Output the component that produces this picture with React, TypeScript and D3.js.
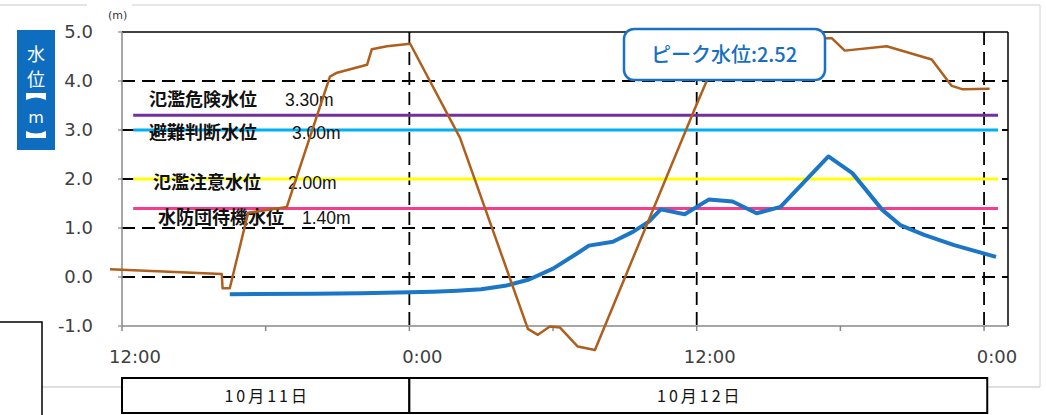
import React from "react";
import * as d3 from "d3";

const W = 1046;
const H = 415;

// ---- data ----
const yTicks = [-1, 0, 1, 2, 3, 4, 5];
const yTickLabels = ["-1.0", "0.0", "1.0", "2.0", "3.0", "4.0", "5.0"];
const xTickTimes = ["10-11 12:00", "10-12 00:00", "10-12 12:00", "10-13 00:00"];
const xTickLabels = ["12:00", "0:00", "12:00", "0:00"];
const minorTickTimes = ["10-11 12:00", "10-11 18:00", "10-12 00:00", "10-12 06:00", "10-12 12:00", "10-12 18:00", "10-13 00:00"];
const dateLabels = ["10月11日", "10月12日"];
const dateBounds = ["10-11 12:00", "10-12 00:00", "10-13 00:08"];

const blueTimes = [
  "10-11 16:30", "10-11 20:00", "10-11 22:00", "10-12 00:00", "10-12 01:00", "10-12 02:00",
  "10-12 03:00", "10-12 04:00", "10-12 05:00", "10-12 06:00", "10-12 07:00", "10-12 07:30",
  "10-12 08:30", "10-12 09:20", "10-12 10:00", "10-12 10:30", "10-12 11:30", "10-12 12:30",
  "10-12 13:30", "10-12 14:30", "10-12 15:30", "10-12 17:30", "10-12 18:30", "10-12 19:45",
  "10-12 20:30", "10-12 21:30", "10-12 22:45", "10-13 00:30",
];
const blueValues = [
  -0.35, -0.34, -0.33, -0.31, -0.3, -0.28,
  -0.25, -0.18, -0.05, 0.17, 0.48, 0.64,
  0.72, 0.92, 1.13, 1.38, 1.28, 1.58,
  1.54, 1.3, 1.43, 2.46, 2.12, 1.37,
  1.06, 0.86, 0.65, 0.41,
];

const brownTimes = [
  "10-11 11:30", "10-11 16:10", "10-11 16:12", "10-11 16:30", "10-11 17:16", "10-11 18:53",
  "10-11 20:41", "10-11 20:59", "10-11 22:14", "10-11 22:26", "10-11 23:04", "10-12 00:02",
  "10-12 02:07", "10-12 04:57", "10-12 05:22", "10-12 05:52", "10-12 06:17", "10-12 07:02",
  "10-12 07:45", "10-12 11:56", "10-12 12:46", "10-12 14:00", "10-12 16:56", "10-12 17:26",
  "10-12 17:39", "10-12 18:11", "10-12 19:56", "10-12 21:49", "10-12 22:39", "10-12 23:07",
  "10-13 00:14",
];
const brownValues = [
  0.16, 0.06, -0.23, -0.23, 1.31, 1.43,
  4.09, 4.17, 4.33, 4.65, 4.71, 4.76,
  2.84, -1.06, -1.18, -1.01, -1.03, -1.42,
  -1.49, 3.45, 4.4, 4.95, 4.92, 4.87,
  4.87, 4.62, 4.71, 4.44, 3.9, 3.83,
  3.84,
];

const thresholdNames = ["氾濫危険水位", "避難判断水位", "氾濫注意水位", "水防団待機水位"];
const thresholdValues = [3.3, 3.0, 2.0, 1.4];
const thresholdValueLabels = ["3.30m", "3.00m", "2.00m", "1.40m"];
const thresholdSpan = ["10-11 12:28", "10-13 00:35"];
const peakLabel = "ピーク水位:2.52";
const unitLabel = "(m)";

// ---- styles / layout ----
const thresholdColors = ["#7030A0", "#00B0F0", "#FFFF00", "#F23E8C"];
const nameX = [149, 149, 153, 158];
const valueX = [285, 292, 288, 302];
const labelDy = [-16, 3, 4, 9];

const parse = d3.timeParse("%m-%d %H:%M");

export default function App() {
  const x = d3
    .scaleTime()
    .domain([parse("10-11 12:00") as Date, parse("10-13 01:00") as Date])
    .range([122, 1008]);
  const y = d3.scaleLinear().domain([-1, 5]).range([326, 32]);

  const line = d3
    .line<[Date, number]>()
    .x((d) => x(d[0]))
    .y((d) => y(d[1]));

  const blue: [Date, number][] = blueTimes.map((t, i) => [parse(t) as Date, blueValues[i]]);
  const brown: [Date, number][] = brownTimes.map((t, i) => [parse(t) as Date, brownValues[i]]);

  const x0 = x.range()[0];
  const x1 = x.range()[1];
  const yTop = y(5);
  const yBot = y(-1);
  const tx0 = x(parse(thresholdSpan[0]) as Date);
  const tx1 = x(parse(thresholdSpan[1]) as Date);

  const dash = "13 7";
  const tickFont = "'DejaVu Sans', sans-serif";
  const cjk = "'Noto Sans CJK JP', sans-serif";

  return (
    <div style={{ position: "fixed", left: 0, top: 0, width: W, height: H, background: "#fff" }}>
      <svg width={W} height={H} viewBox={`0 0 ${W} ${H}`}>
        <rect x={0} y={0} width={W} height={H} fill="#ffffff" />
        {/* faint outer frame */}
        <line x1={0} x2={87} y1={5} y2={5} stroke="#c8c8c8" strokeWidth={1} />
        <line x1={132} x2={1040} y1={5} y2={5} stroke="#d0d0d0" strokeWidth={1} />
        <line x1={1040} x2={1040} y1={5} y2={387} stroke="#d0d0d0" strokeWidth={1} />
        <line x1={0} x2={1040} y1={387} y2={387} stroke="#c0c0c0" strokeWidth={1} />

        {/* unit */}
        <text x={108} y={19} fontFamily={tickFont} fontSize={11} fill="#333">
          {unitLabel}
        </text>

        {/* y-axis title box */}
        <rect x={17} y={30} width={38} height={120} fill="#0F6DBF" />
        <text x={36} y={53} textAnchor="middle" dominantBaseline="central" fontFamily={cjk} fontSize={18} fill="#fff">
          水
        </text>
        <text x={36} y={78} textAnchor="middle" dominantBaseline="central" fontFamily={cjk} fontSize={18} fill="#fff">
          位
        </text>
        <path d="M26,93 L46,93 L46,100 Q36,95 26,100 Z" fill="#fff" />
        <text x={36} y={117} textAnchor="middle" dominantBaseline="central" fontFamily={tickFont} fontSize={16} fill="#fff">
          m
        </text>
        <path d="M26,138 L46,138 L46,131 Q36,136 26,131 Z" fill="#fff" />

        {/* y tick labels */}
        {yTicks.map((v, i) => (
          <text key={"yl" + i} x={93} y={y(v)} dy="0.36em" textAnchor="end" fontFamily={tickFont} fontSize={18} fill="#404040">
            {yTickLabels[i]}
          </text>
        ))}

        {/* horizontal dashed grid */}
        {yTicks
          .filter((v) => v > -1 && v < 5)
          .map((v) => (
            <line key={"hg" + v} x1={x0} x2={x1} y1={y(v)} y2={y(v)} stroke="#000" strokeWidth={1.8} strokeDasharray={dash} />
          ))}
        {/* vertical dashed grid */}
        {xTickTimes.slice(1).map((t) => (
          <line
            key={"vg" + t}
            x1={x(parse(t) as Date)}
            x2={x(parse(t) as Date)}
            y1={yTop}
            y2={yBot}
            stroke="#000"
            strokeWidth={1.8}
            strokeDasharray={dash}
          />
        ))}

        {/* threshold lines */}
        {thresholdValues.map((v, i) => (
          <line key={"th" + i} x1={tx0} x2={tx1} y1={y(v)} y2={y(v)} stroke={thresholdColors[i]} strokeWidth={3} />
        ))}
        {thresholdValues.map((v, i) => (
          <g key={"tl" + i}>
            <text
              x={nameX[i]}
              y={y(v) + labelDy[i]}
              dy="0.36em"
              fontFamily={cjk}
              fontWeight={700}
              fontSize={18}
              fill="#111"
            >
              {thresholdNames[i]}
            </text>
            <text
              x={valueX[i]}
              y={y(v) + labelDy[i]}
              dy="0.36em"
              fontFamily="'Liberation Sans', Arial, sans-serif"
              fontSize={17.5}
              fill="#111"
            >
              {thresholdValueLabels[i]}
            </text>
          </g>
        ))}

        {/* axes / frame */}
        <line x1={x0} x2={x1} y1={yTop} y2={yTop} stroke="#000" strokeWidth={1.5} />
        <line x1={x1} x2={x1} y1={yTop} y2={yBot} stroke="#000" strokeWidth={1.5} />
        <line x1={x0} x2={x0} y1={yTop} y2={yBot} stroke="#888" strokeWidth={1.5} />
        <line x1={x0} x2={x1} y1={yBot} y2={yBot} stroke="#888" strokeWidth={1.5} />
        {yTicks.map((v) => (
          <line key={"yt" + v} x1={x0 - 4} x2={x0} y1={y(v)} y2={y(v)} stroke="#888" strokeWidth={1.2} />
        ))}
        {minorTickTimes.map((t) => (
          <line
            key={"xt" + t}
            x1={x(parse(t) as Date)}
            x2={x(parse(t) as Date)}
            y1={yBot}
            y2={yBot + 5}
            stroke="#888"
            strokeWidth={1.5}
          />
        ))}

        {/* series */}
        <path d={line(blue) || ""} fill="none" stroke="#1C76C6" strokeWidth={4} strokeLinejoin="round" />
        <path d={line(brown) || ""} fill="none" stroke="#AE5F1E" strokeWidth={2.5} strokeLinejoin="round" />

        {/* peak callout */}
        <rect x={624} y={29} width={201} height={51} rx={10} ry={10} fill="#fff" stroke="#1B72C4" strokeWidth={2.5} />
        <text x={724} y={55} dy="0.36em" textAnchor="middle" fontFamily={cjk} fontWeight={500} fontSize={20} fill="#1670C2">
          {peakLabel}
        </text>

        {/* x tick labels */}
        {xTickTimes.map((t, i) => (
          <text key={"xl" + i} x={x(parse(t) as Date) + 13} y={363} textAnchor="middle" fontFamily={tickFont} fontSize={18} fill="#404040">
            {xTickLabels[i]}
          </text>
        ))}

        {/* bottom-left box */}
        <rect x={-2} y={322} width={44} height={100} fill="#fff" stroke="#000" strokeWidth={1.5} />

        {/* date table */}
        {dateLabels.map((lab, i) => {
          const a = x(parse(dateBounds[i]) as Date);
          const b = x(parse(dateBounds[i + 1]) as Date);
          return (
            <g key={"dt" + i}>
              <rect x={a} y={378} width={b - a} height={35} fill="#fff" stroke="#000" strokeWidth={2} />
              <text
                x={(a + b) / 2 + 1.5}
                y={396}
                dy="0.36em"
                textAnchor="middle"
                fontFamily={cjk}
                fontSize={16}
                letterSpacing={3}
                fill="#111"
              >
                {lab}
              </text>
            </g>
          );
        })}
      </svg>
    </div>
  );
}
